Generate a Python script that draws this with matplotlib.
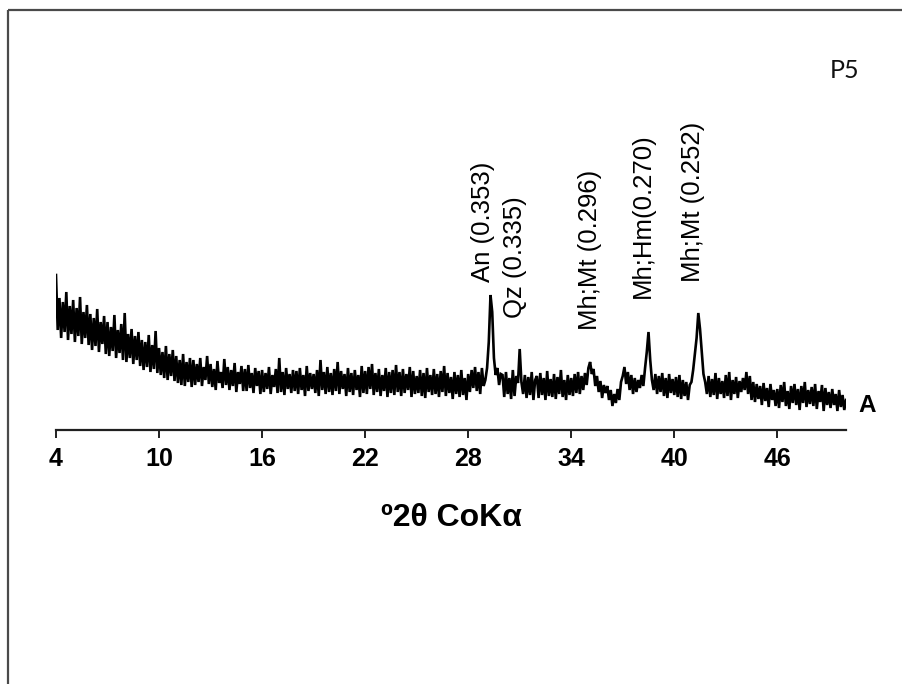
import matplotlib
matplotlib.use("Agg")
import matplotlib.pyplot as plt
import numpy as np
from matplotlib.lines import Line2D

# ---- data (XRD scan, arbitrary intensity units) ----
scan_start = 4.0
scan_step = 0.1
intensity = (
    [155, 100, 132, 92, 128, 98, 138, 90, 124, 96] +     # 4
    [130, 88, 122, 94, 133, 86, 118, 92, 125, 85] +      # 5
    [116, 80, 112, 84, 121, 78, 108, 86, 114, 76] +      # 6
    [108, 74, 103, 79, 115, 72, 100, 77, 106, 70] +      # 7
    [117, 68, 96, 72, 101, 66, 94, 70, 98, 64] +         # 8
    [90, 60, 88, 63, 95, 58, 85, 61, 99, 57] +           # 9
    [82, 55, 78, 52, 84, 50, 76, 54, 80, 49] +           # 10
    [74, 47, 70, 45, 76, 44, 68, 48, 72, 43] +           # 11
    [70, 45, 66, 48, 72, 44, 63, 50, 74, 46] +           # 12
    [66, 43, 61, 40, 69, 47, 58, 42, 71, 45] +           # 13
    [63, 40, 60, 44, 67, 38, 58, 46, 64, 39] +           # 14
    [61, 39, 65, 42, 57, 37, 62, 44, 59, 36] +           # 15
    [60, 38, 57, 41, 63, 36, 55, 43, 61, 37] +           # 16
    [72, 38, 58, 35, 62, 41, 56, 37, 60, 39] +           # 17
    [59, 36, 62, 40, 55, 34, 64, 39, 57, 41] +           # 18
    [56, 37, 60, 34, 70, 40, 58, 36, 63, 38] +           # 19
    [57, 35, 61, 39, 68, 36, 59, 41, 56, 34] +           # 20
    [62, 38, 57, 35, 60, 40, 55, 33, 64, 37] +           # 21
    [59, 36, 63, 41, 66, 35, 57, 38, 61, 34] +           # 22
    [55, 39, 62, 33, 58, 37, 60, 35, 65, 38] +           # 23
    [58, 34, 61, 37, 56, 40, 63, 33, 59, 36] +           # 24
    [54, 37, 60, 34, 57, 32, 62, 38, 55, 35] +           # 25
    [61, 36, 56, 33, 59, 38, 64, 34, 57, 37] +           # 26
    [53, 31, 58, 36, 55, 33, 60, 35, 52, 30] +           # 27
    [56, 38, 60, 42, 63, 39, 58, 36, 62, 44] +           # 28
    [50, 62, 88, 135, 118, 72, 55, 62, 45, 56] +         # 29
    [55, 33, 58, 36, 52, 31, 60, 34, 54, 47] +           # 30
    [81, 48, 36, 55, 32, 53, 35, 58, 30, 50] +           # 31
    [54, 32, 57, 35, 52, 30, 59, 34, 51, 33] +           # 32
    [56, 31, 53, 36, 60, 33, 50, 30, 55, 35] +           # 33
    [52, 34, 56, 37, 58, 36, 54, 40, 57, 45] +           # 34
    [62, 68, 56, 61, 44, 54, 38, 49, 32, 45] +           # 35
    [37, 44, 30, 40, 24, 36, 27, 41, 30, 48] +           # 36
    [54, 63, 46, 58, 40, 55, 36, 52, 38, 50] +           # 37
    [42, 55, 44, 62, 78, 98, 70, 50, 40, 56] +           # 38
    [36, 54, 38, 57, 34, 52, 32, 56, 37, 51] +           # 39
    [35, 53, 33, 55, 31, 50, 34, 48, 30, 45] +           # 40
    [48, 60, 76, 92, 117, 101, 78, 56, 48, 36] +         # 41
    [54, 33, 51, 35, 57, 31, 52, 36, 49, 32] +           # 42
    [55, 34, 58, 30, 50, 36, 53, 32, 49, 38] +           # 43
    [52, 40, 58, 36, 54, 30, 48, 28, 46, 31] +           # 44
    [44, 25, 47, 29, 42, 23, 46, 30, 40, 24] +           # 45
    [41, 22, 45, 28, 48, 24, 39, 21, 44, 27] +           # 46
    [46, 25, 41, 20, 44, 27, 48, 23, 40, 26] +           # 47
    [43, 24, 46, 21, 39, 28, 45, 19, 42, 25] +           # 48
    [38, 22, 41, 25, 36, 19, 40, 23, 35, 20] +           # 49
    [30]                                                 # 50
)
two_theta = scan_start + scan_step * np.arange(len(intensity))

tick_values = [4, 10, 16, 22, 28, 34, 40, 46]
peak_labels = ["An (0.353)", "Qz (0.335)", "Mh;Mt (0.296)", "Mh;Hm(0.270)", "Mh;Mt (0.252)"]
peak_positions = [29.3, 31.0, 35.1, 38.5, 41.4]
sample_name = "P5"
pattern_name = "A"
x_label = "º2θ CoKα"

# ---- figure ----
W, H = 902, 684
fig = plt.figure(figsize=(W / 100, H / 100), dpi=100)
fig.patch.set_facecolor("white")

ax = fig.add_axes([56 / W, 254 / H, 790 / W, 420 / H])
ax.plot(two_theta, intensity, color="black", lw=1.9, solid_joinstyle="miter")
ax.set_xlim(4, 50)
ax.set_ylim(0, 420)

for s in ["top", "right", "left"]:
    ax.spines[s].set_visible(False)
ax.spines["bottom"].set_linewidth(1.6)
ax.spines["bottom"].set_color("#202020")
ax.set_yticks([])
ax.set_xticks(tick_values)
ax.set_xticklabels([str(t) for t in tick_values])
ax.tick_params(axis="x", direction="out", length=6, width=1.4, color="#202020", pad=6)
for lab in ax.get_xticklabels():
    lab.set_fontfamily("Liberation Sans")
    lab.set_fontweight("bold")
    lab.set_fontsize(18)
ax.patch.set_alpha(0)

# peak annotations (vertical text)
label_x_offsets = [-0.45, -0.28, 0.0, -0.33, -0.32]
label_bottoms = [148, 112, 100, 132, 148]
for txt, px, dx, yb in zip(peak_labels, peak_positions, label_x_offsets, label_bottoms):
    ax.text(px + dx, yb, txt, rotation=90, ha="center", va="bottom",
            fontsize=18.5, family="Liberation Sans", color="black", clip_on=False)

# pattern name at the right end
ax.text(50.7, 25, pattern_name, ha="left", va="center", fontsize=17.5,
        fontweight="bold", family="Liberation Sans", clip_on=False)

# x label
fig.text(451 / W, 1 - 518 / H, x_label, ha="center", va="center", fontsize=23,
         fontweight="bold", family="Liberation Sans")

# sample name
fig.text(845 / W, 1 - 71 / H, sample_name, ha="center", va="center", fontsize=18,
         family="Lato", color="#111111")

# outer frame (left + top)
fig.add_artist(Line2D([8 / W, 8 / W], [0, 1 - 10 / H], transform=fig.transFigure,
                      color="#4a4a4a", lw=1.6, solid_capstyle="butt"))
fig.add_artist(Line2D([8 / W, 1], [1 - 10 / H, 1 - 10 / H], transform=fig.transFigure,
                      color="#4a4a4a", lw=1.6, solid_capstyle="butt"))

fig.savefig("out.png", dpi=100, facecolor="white")
